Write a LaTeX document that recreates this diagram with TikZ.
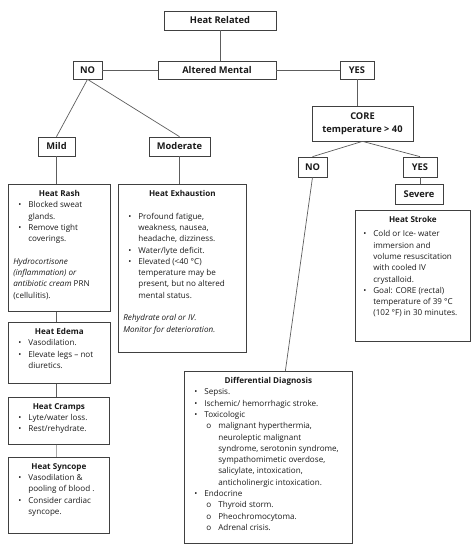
\documentclass[tikz,border=0pt]{standalone}
\usepackage{fontspec}
\setmainfont{Open Sans}
\usetikzlibrary{positioning,calc}

\definecolor{edge}{HTML}{404040}
\definecolor{ink}{HTML}{1a1a1a}

% list helpers for the text boxes
\newlength{\bulindent}
\setlength{\bulindent}{15pt}
\newcommand{\bul}[1]{\par\leftskip=\bulindent\noindent\llap{\textbullet\hspace{7pt}}#1}
\newcommand{\subbul}[1]{\par\leftskip=29pt\noindent\llap{o\hspace{7pt}}#1}
\newcommand{\plain}{\par\leftskip=0pt\noindent}
\newcommand{\gap}{\par\vspace{11.3pt}}
\newcommand{\head}[1]{{\centering\bfseries #1\par}}
\newcommand{\cardtext}[3]{\parbox[t][#2][t]{#1}{\raggedright\hfuzz=6pt #3}}

\begin{document}
\begin{tikzpicture}[x=1pt,y=-1pt]
  \tikzstyle{tag}=[rectangle, draw=edge, line width=0.7pt, text=ink, inner sep=0pt, minimum height=19pt, font=\bfseries\fontsize{9.3}{13}\selectfont, align=center]
  \tikzstyle{card}=[rectangle, draw=edge, line width=0.7pt, text=ink, anchor=north west, inner xsep=5pt, inner ysep=6pt, font=\fontsize{8.1}{11.3}\selectfont]
  \tikzstyle{link}=[draw=edge!85, line width=0.7pt]

  \useasboundingbox (0,0) rectangle (474,552);

  % decision boxes
  \node[tag, minimum width=112pt] (hr) at (220,20.5) {Heat Related};
  \node[tag, minimum width=118pt, minimum height=18pt] (am) at (217,70) {Altered Mental};
  \node[tag, minimum width=29pt, minimum height=18pt] (no1) at (87.5,70) {NO};
  \node[tag, minimum width=34pt, minimum height=18pt] (yes1) at (357,70) {YES};
  \node[tag, minimum width=101pt, minimum height=35pt] (core) at (362.5,123.5) {CORE\\temperature > 40};
  \node[tag, minimum width=37pt] (mild) at (56.5,146.5) {Mild};
  \node[tag, minimum width=61pt] (moderate) at (179.5,146.5) {Moderate};
  \node[tag, minimum width=29pt, minimum height=20pt] (no2) at (312.5,167) {NO};
  \node[tag, minimum width=34pt, minimum height=20pt] (yes2) at (420,167) {YES};
  \node[tag, minimum width=48pt, minimum height=20pt] (severe) at (419,194) {Severe};

  % text boxes
  \node[card] (rash) at (8,184) {\cardtext{92pt}{115pt}{%
    \head{Heat Rash}
    \bul{Blocked sweat\\glands.}
    \bul{Remove tight\\coverings.}
    \gap
    \plain\textit{Hydrocortisone\\(inflammation) or\\antibiotic cream} PRN\\(cellulitis).}};
  \node[card] (exh) at (118,184) {\cardtext{118pt}{156pt}{%
    \head{Heat Exhaustion}
    \gap
    \bul{Profound fatigue,\\weakness, nausea,\\headache, dizziness.}
    \bul{Water/lyte deficit.}
    \bul{Elevated (<40 °C)\\temperature may be\\present, but no altered\\mental status.}
    \gap
    \plain\textit{Rehydrate oral or IV.\\Monitor for deterioration.}}};
  \node[card] (edema) at (8,322) {\cardtext{92pt}{49pt}{%
    \head{Heat Edema}
    \bul{Vasodilation.}
    \bul{Elevate legs – not\\diuretics.}}};
  \node[card] (cramps) at (8,397) {\cardtext{91pt}{35pt}{%
    \head{Heat Cramps}
    \bul{Lyte/water loss.}
    \bul{Rest/rehydrate.}}};
  \node[card] (syncope) at (8,457) {\cardtext{91pt}{64pt}{%
    \head{Heat Syncope}
    \bul{Vasodilation \&\\pooling of blood .}
    \bul{Consider cardiac\\syncope.}}};
  \node[card, inner xsep=4pt] (stroke) at (355,210) {\cardtext{107pt}{119pt}{%
    \setlength{\bulindent}{14pt}%
    \head{Heat Stroke}
    \vspace{3pt}
    \bul{Cold or Ice- water\\immersion and\\volume resuscitation\\with cooled IV\\crystalloid.}
    \bul{Goal: CORE (rectal)\\temperature of 39 °C\\\mbox{(102 °F) in 30 minutes.}}}};
  \node[card] (ddx) at (184,371) {\cardtext{158pt}{160pt}{%
    \head{Differential Diagnosis}
    \bul{Sepsis.}
    \bul{Ischemic/ hemorrhagic stroke.}
    \bul{Toxicologic}
    \subbul{malignant hyperthermia,\\neuroleptic malignant\\syndrome, serotonin syndrome,\\sympathomimetic overdose,\\salicylate, intoxication,\\anticholinergic intoxication.}
    \bul{Endocrine}
    \subbul{Thyroid storm.}
    \subbul{Pheochromocytoma.}
    \subbul{Adrenal crisis.}}};

  % top of the tree
  \draw[link] (hr.south) -- (hr.south |- am.north);
  \draw[link] (am.west) -- (no1.east);
  \draw[link] (am.east) -- (yes1.west);
  % NO branch
  \draw[link] (no1.south) -- (mild.north);
  \draw[link] (no1.south) -- (moderate.north);
  \draw[link] (mild.south) -- (mild.south |- rash.north);
  \draw[link] (moderate.south) -- (moderate.south |- exh.north);
  \draw[link] (mild.south |- rash.south) -- (mild.south |- edema.north);
  \draw[link] (mild.south |- edema.south) -- (mild.south |- cramps.north);
  \draw[link, draw=edge!45] (mild.south |- cramps.south) -- (mild.south |- syncope.north);
  % YES branch
  \draw[link] (yes1.south) -- (yes1.south |- core.north);
  \draw[link] (core.south) -- (no2.north);
  \draw[link] (core.south) -- (yes2.north);
  \draw[link] (yes2.south) -- (yes2.south |- severe.north);
  \draw[link] (no2.south) -- ([xshift=17pt]ddx.north);
\end{tikzpicture}
\end{document}
